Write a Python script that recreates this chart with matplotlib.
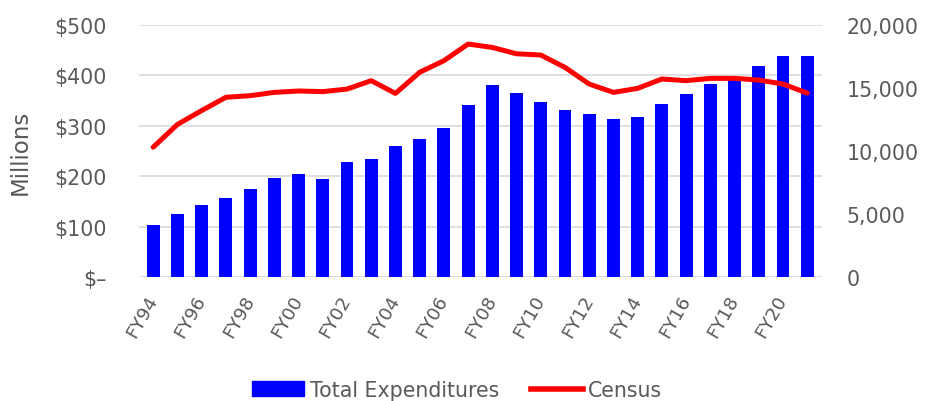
import matplotlib.pyplot as plt
from matplotlib.ticker import FuncFormatter, MultipleLocator
from matplotlib.lines import Line2D
from matplotlib.patches import Patch

plt.rcParams['font.family'] = ['DejaVu Sans']

years = ['FY94', 'FY95', 'FY96', 'FY97', 'FY98', 'FY99', 'FY00', 'FY01', 'FY02', 'FY03',
         'FY04', 'FY05', 'FY06', 'FY07', 'FY08', 'FY09', 'FY10', 'FY11', 'FY12', 'FY13',
         'FY14', 'FY15', 'FY16', 'FY17', 'FY18', 'FY19', 'FY20', 'FY21']
expenditures = [104, 125, 143, 156, 174, 197, 204, 195, 228, 235,
                259, 273, 295, 342, 381, 365, 346, 332, 323, 314,
                317, 343, 363, 382, 394, 418, 438, 438]
census = [10300, 12100, 13200, 14250, 14380, 14640, 14750, 14700, 14900, 15570,
          14560, 16230, 17150, 18470, 18200, 17700, 17600, 16620, 15300, 14640,
          14960, 15700, 15570, 15750, 15750, 15620, 15300, 14590]

text_color = '#595959'
x = list(range(len(years)))

fig = plt.figure(figsize=(9.37, 4.02), dpi=100)
ax = fig.add_axes([0.148, 0.308, 0.729, 0.628])
ax2 = ax.twinx()

ax.bar(x, expenditures, width=0.53, color='#0000FF', zorder=2)
ax2.plot(x, census, color='#FF0000', linewidth=3.6, solid_capstyle='round', zorder=3)

ax.set_xlim(-0.6, len(years) - 0.4)
ax.set_ylim(0, 500)
ax2.set_ylim(0, 20000)
ax.yaxis.set_major_locator(MultipleLocator(100))
ax2.yaxis.set_major_locator(MultipleLocator(5000))

ax.yaxis.set_major_formatter(FuncFormatter(lambda v, p: '$–' if v == 0 else f'${v:,.0f}'))
ax2.yaxis.set_major_formatter(FuncFormatter(lambda v, p: f'{v:,.0f}'))

ax.grid(axis='y', color='#d9d9d9', linewidth=1.2, zorder=0)
ax.set_axisbelow(True)

ax.set_xticks(x[::2])
ax.set_xticklabels(years[::2], rotation=60, ha='right', va='center', rotation_mode='anchor')

for a in (ax, ax2):
    for s in a.spines.values():
        s.set_visible(False)
    a.tick_params(length=0, colors=text_color, labelsize=14.8)
ax.tick_params(axis='x', labelsize=13.2, pad=14)
ax.tick_params(axis='y', pad=23)
ax2.tick_params(axis='y', pad=18)

ax.set_ylabel('Millions', color=text_color, fontsize=16.5, labelpad=16)

handles = [Patch(color='#0000FF', label='Total Expenditures'),
           Line2D([], [], color='#FF0000', linewidth=4, label='Census')]
fig.legend(handles=handles, loc='center', bbox_to_anchor=(0.488, 0.028), ncol=2,
           frameon=False, fontsize=14.8, labelcolor=text_color, handlelength=2.55,
           handletextpad=0.25, columnspacing=1.55)

fig.savefig('out.png', dpi=100)
